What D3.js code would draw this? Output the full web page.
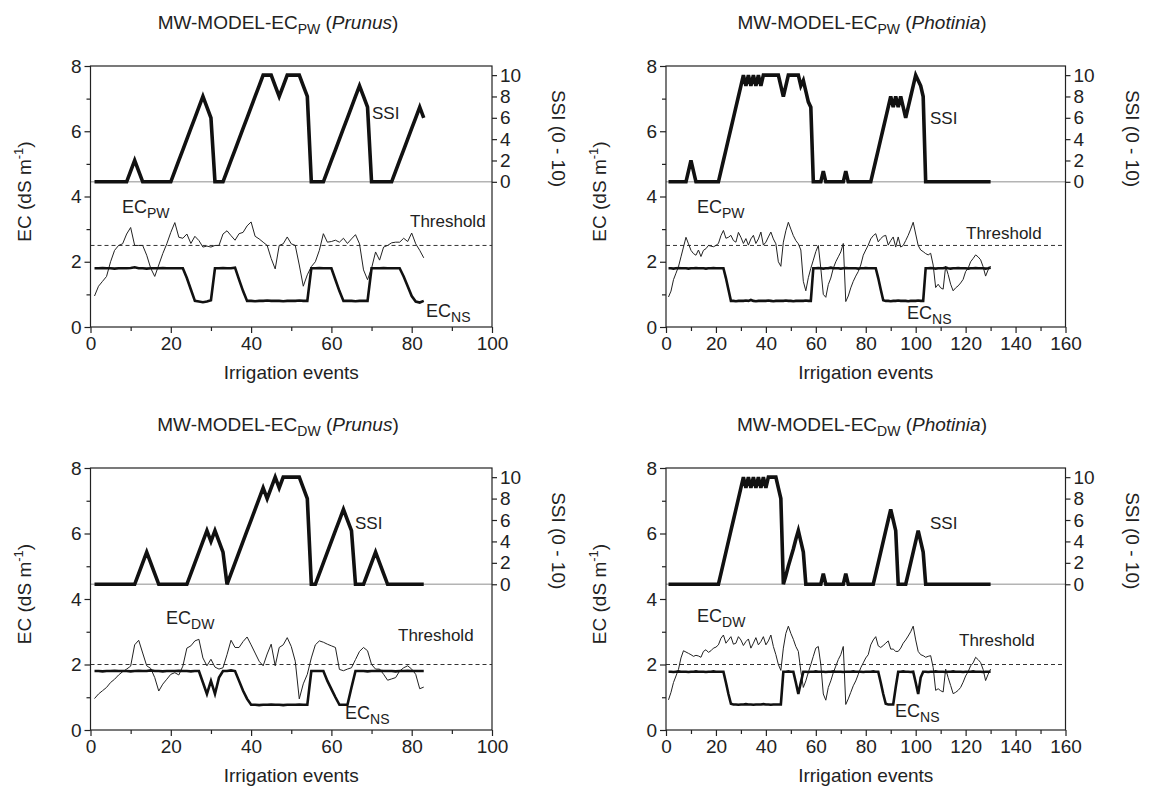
<!DOCTYPE html>
<html><head><meta charset="utf-8">
<script src="https://cdn.jsdelivr.net/npm/d3@7"></script>
<style>
html,body{margin:0;padding:0;background:#fff;}
svg text{font-family:"Liberation Sans",Arial,sans-serif;fill:#222;}
</style></head>
<body><svg id="c" width="1149" height="796"></svg>
<script>
// ---------- DATA ----------
const xTicksPrunus = [0, 20, 40, 60, 80, 100];
const xTicksPhotinia = [0, 20, 40, 60, 80, 100, 120, 140, 160];
const ecTicks = [0, 2, 4, 6, 8];
const ssiTicks = [0, 2, 4, 6, 8, 10];

// Panel A: MW-MODEL-EC_PW (Prunus), 83 irrigation events
const ssiPWPrunus = [0,0,0,0,0,0,0,0,0, 1,2,1,0, 0,0,0,0,0,0,0, 1,2,3,4,5,6,7,8,7,6,0,0,0,
  1,2,3,4,5,6,7,8,9,10,10,10,9,8,9,10,10,10,10,9,8,0,0,0,0,
  1,2,3,4,5,6,7,8,9,8,7,0,0,0,0,0,0, 1,2,3,4,5,6,7,6];
const ecnsPWPrunus = [1.8,1.8,1.81,1.8,1.8,1.79,1.8,1.8,1.8,1.81,1.83,1.8,1.8,1.79,1.8,1.8,1.8,1.81,1.8,1.8,1.8,1.8,1.8,
  1.5,1.15,0.8,0.78,0.76,0.78,0.82,
  1.8,1.8,1.81,1.8,1.8,1.82,
  1.45,1.1,0.8,
  0.8,0.79,0.8,0.8,0.81,0.8,0.8,0.8,0.79,0.8,0.8,0.8,0.81,0.8,0.8,
  1.8,1.8,1.81,1.8,1.8,1.8,
  1.45,1.1,0.8,
  0.8,0.8,0.79,0.8,0.8,0.8,
  1.8,1.8,1.8,1.81,1.8,1.8,1.8,1.8,
  1.55,1.25,0.95,0.78,0.75,0.8];
const ecpwPrunus = [0.95,1.25,1.4,1.55,2.0,2.35,2.5,2.55,2.85,3.05,2.5,2.5,2.5,2.2,1.8,1.55,1.9,2.25,2.55,2.9,
  3.2,2.75,2.72,2.85,2.56,2.78,2.65,2.45,2.48,2.45,2.5,2.5,2.85,2.95,2.8,2.66,2.86,2.9,3.1,3.22,
  2.78,2.7,2.6,2.5,2.1,1.78,2.5,2.55,2.76,2.55,2.5,1.9,1.25,1.6,1.85,2.0,2.35,2.86,2.6,2.62,
  2.66,2.6,2.72,2.56,2.7,2.83,2.55,1.75,1.45,1.8,2.3,2.05,2.45,2.5,2.58,2.6,2.6,2.72,2.62,2.88,
  2.55,2.35,2.12];

// Panel B: MW-MODEL-EC_PW (Photinia), 130 irrigation events
const ssiPWPhotinia = [0,0,0,0,0,0,0,0, 1,2,1,0, 0,0,0,0,0,0,0,0,0,
  1,2,3,4,5,6,7,8,9, 10,9,10,9,10,9,10,9,10, 10,10,10,10,10,10, 9,8,9, 10,10,10,10,10,
  9,9.5,8.5,7.5,7, 0,0,0,0, 1,0, 0,0,0,0,0,0,0, 1,0, 0,0,0,0,0,0,0,0,0,
  1,2,3,4,5,6,7,8, 7,8,7,8,7,6,7,8,9,10,9.5,9,8,
  0,0,0,0,0,0,0,0,0,0,0,0,0,0,0,0,0,0,0,0,0,0,0,0,0,0,0];
const ecnsPWPhotinia = [1.8,1.8,1.79,1.8,1.81,1.8,1.8,1.8,1.79,1.8,1.8,1.81,1.8,1.8,1.8,1.79,1.8,1.8,1.81,1.8,1.8,1.8,1.8,
  1.5,1.15,0.8,
  0.8,0.79,0.8,0.8,0.8,0.81,0.8,0.83,0.8,0.79,0.8,0.8,0.8,0.8,0.81,0.8,0.79,0.8,0.8,0.8,0.8,0.81,0.8,0.8,0.79,0.8,0.8,0.8,0.8,0.81,0.8,0.8,
  1.8,1.8,1.81,1.8,1.79,1.8,1.8,1.82,1.8,1.8,1.8,1.79,1.8,1.81,1.8,1.8,1.8,1.8,1.79,1.8,1.8,1.81,1.8,1.8,1.8,1.8,
  1.5,1.15,0.82,
  0.8,0.8,0.79,0.8,0.8,0.81,0.8,0.8,0.8,0.79,0.8,0.8,0.8,0.81,0.8,0.8,
  1.8,1.8,1.81,1.8,1.79,1.8,1.8,1.8,1.82,1.8,1.79,1.8,1.8,1.81,1.8,1.8,1.8,1.79,1.8,1.8,1.81,1.8,1.8,1.8,1.79,1.8,1.82];
const ecpwPhotinia = [0.92,1.1,1.45,1.65,1.85,2.15,2.45,2.75,2.55,2.35,2.25,2.2,2.36,2.16,2.35,2.4,2.5,2.48,2.46,2.5,
  2.56,2.8,2.96,2.72,2.75,2.81,2.65,2.6,2.9,2.75,2.56,2.71,2.51,2.7,2.81,2.56,2.7,2.91,2.51,2.6,
  2.76,2.91,2.7,2.55,2.0,1.86,2.6,2.95,3.21,3.0,2.8,2.65,2.55,2.36,1.4,1.11,1.51,1.8,2.05,2.31,
  2.5,1.8,1.0,0.91,1.3,1.5,1.8,2.0,2.15,2.3,2.56,0.78,0.95,1.2,1.4,1.56,1.7,1.9,2.2,2.36,
  2.51,2.7,2.8,2.86,2.61,2.71,2.78,2.81,2.51,2.65,2.76,2.45,2.76,2.45,2.5,2.65,2.81,3.0,3.21,2.85,
  2.5,2.36,2.31,2.25,2.21,2.26,1.9,1.21,1.31,1.2,1.16,1.86,1.61,1.31,1.11,1.2,1.26,1.35,1.46,1.7,
  1.8,2.0,2.1,2.21,2.15,2.06,1.85,1.56,1.75,1.86];

// Panel C: MW-MODEL-EC_DW (Prunus), 83 irrigation events
const ssiDWPrunus = [0,0,0,0,0,0,0,0,0,0,0, 1,2,3,2,1,0, 0,0,0,0,0,0,0,
  1,2,3,4,5,4,5,4,3,0, 1,2,3,4,5,6,7,8,9,8,9,10,9, 10,10,10,10,10, 9,8,0,0,
  1,2,3,4,5,6,7,6,5,0, 0,0,1,2,3,2,1,0, 0,0,0,0,0,0,0,0,0];
const ecnsDWPrunus = [1.8,1.8,1.79,1.8,1.8,1.81,1.8,1.8,1.8,1.79,1.8,1.81,1.8,1.8,1.82,1.8,1.8,1.79,1.8,1.8,1.8,1.81,1.8,1.8,1.79,1.8,1.8,
  1.45,1.1,1.5,1.1,1.6,
  1.8,1.8,1.82,1.8,
  1.5,1.2,0.95,
  0.77,0.77,0.76,0.77,0.77,0.78,0.77,0.77,0.76,0.77,0.77,0.77,0.78,0.77,0.77,
  1.8,1.8,1.8,1.8,
  1.5,1.25,1.0,
  0.77,0.77,0.77,
  1.3,1.8,
  1.8,1.8,1.79,1.8,1.8,1.81,1.8,1.8,1.8,1.79,1.8,1.8,1.81,1.8,1.8,1.8,1.8];
const ecdwPrunus = [0.96,1.1,1.2,1.3,1.45,1.55,1.68,1.78,1.86,1.95,2.6,2.74,2.35,1.96,1.88,1.6,1.19,1.4,1.55,1.7,
  1.75,1.68,1.95,2.5,2.57,2.72,2.77,2.2,1.96,2.16,1.92,1.86,1.9,2.3,2.74,2.52,2.52,2.7,2.84,2.6,
  2.35,2.1,1.96,2.32,2.62,1.96,2.52,2.6,2.82,2.55,2.1,0.95,1.41,1.7,2.2,2.6,2.72,2.68,2.62,2.57,
  2.52,1.85,1.81,1.86,1.9,2.15,2.4,2.52,2.42,2.0,1.86,1.86,1.7,1.52,1.56,1.6,1.8,1.9,1.96,1.86,
  1.7,1.26,1.31];

// Panel D: MW-MODEL-EC_DW (Photinia), 130 irrigation events
const ssiDWPhotinia = [0,0,0,0,0,0,0,0,0,0,0,0,0,0,0,0,0,0,0,0,0,
  1,2,3,4,5,6,7,8,9, 10,9,10,9,10,9,10,9,10,9,10, 10,10,10, 9,8, 0,
  0.8,1.7,2.5,3.3,4.2,5,4,3, 0, 0,0,0,0,0,0, 1, 0,0,0,0,0,0,0,0, 1, 0,0,0,0,0,0,0,0,0,0,0,
  1,2,3,4,5,6,7,6,5, 0,0,0,0, 1,2,3,4,5,4,3,
  0,0,0,0,0,0,0,0,0,0,0,0,0,0,0,0,0,0,0,0,0,0,0,0,0,0,0];
const ecnsDWPhotinia = [1.78,1.78,1.77,1.78,1.79,1.78,1.78,1.78,1.77,1.78,1.78,1.79,1.78,1.78,1.78,1.77,1.78,1.78,1.79,1.78,1.78,1.78,1.78,
  1.45,1.1,0.8,
  0.78,0.78,0.77,0.78,0.78,0.79,0.78,0.78,0.77,0.78,0.78,0.78,0.79,0.78,0.78,0.77,0.78,0.78,0.78,0.78,
  1.78,1.78,1.79,1.78,1.78,
  1.45,1.1,1.45,
  1.78,1.78,1.77,1.78,1.78,1.79,1.78,1.78,1.78,1.77,1.78,1.78,1.79,1.78,1.78,1.78,1.77,1.78,1.78,1.78,1.79,1.78,1.78,1.78,1.77,1.78,1.78,1.78,1.79,1.78,1.78,
  1.45,1.1,0.8,
  0.78,0.78,0.78,
  1.3,
  1.78,1.78,1.79,1.78,1.78,1.77,1.78,
  1.45,1.1,1.6,
  1.78,1.78,1.77,1.78,1.78,1.79,1.78,1.78,1.78,1.77,1.78,1.78,1.79,1.78,1.78,1.78,1.77,1.78,1.78,1.78,1.79,1.78,1.78,1.78,1.77,1.78,1.78,1.78];
const ecdwPhotinia = [0.92,1.15,1.45,1.65,1.85,2.2,2.42,2.38,2.34,2.3,2.25,2.28,2.26,2.22,2.4,2.45,2.37,2.42,2.5,2.53,
  2.6,2.8,2.9,2.65,2.75,2.85,2.62,2.65,2.85,2.75,2.58,2.7,2.78,2.5,2.65,2.82,2.6,2.7,2.85,2.6,
  2.72,2.9,2.55,2.3,2.0,1.82,2.5,2.95,3.17,2.95,2.77,2.55,2.4,1.8,1.3,1.5,1.76,2.0,2.25,2.5,
  2.55,2.0,1.1,0.91,1.3,1.5,1.75,1.95,2.15,2.3,2.55,0.78,0.95,1.15,1.35,1.5,1.7,1.9,2.05,2.2,
  2.3,2.6,2.75,2.85,2.57,2.52,2.58,2.65,2.72,2.47,2.47,2.4,2.4,2.5,2.65,2.75,2.87,3.0,3.17,2.75,
  2.4,2.3,2.27,2.22,2.25,2.27,1.91,1.21,1.26,1.2,1.16,1.86,1.6,1.36,1.11,1.15,1.21,1.3,1.46,1.65,
  1.78,1.96,2.05,2.22,2.15,2.06,1.85,1.51,1.7,1.86];

const thresholdPW = 2.5;
const thresholdDW = 2.0;

// ---------- DRAW ----------
const svg = d3.select("#c");
const cols = [{l: 90.5, r: 492}, {l: 666, r: 1065.5}];
const rows = [{t: 66, b: 327}, {t: 468, b: 730}];

const panels = [
  {col:0,row:0,xMax:100,xt:xTicksPrunus,sub:"PW",genus:"Prunus",ssi:ssiPWPrunus,ns:ecnsPWPrunus,ec:ecpwPrunus,thr:thresholdPW,
   titleX:278, ecLab:[122,213], thrLab:[410,227], nsLab:[426,317], ssiLab:[372,119]},
  {col:1,row:0,xMax:160,xt:xTicksPhotinia,sub:"PW",genus:"Photinia",ssi:ssiPWPhotinia,ns:ecnsPWPhotinia,ec:ecpwPhotinia,thr:thresholdPW,
   titleX:862, ecLab:[697,213], thrLab:[966,239], nsLab:[907,319], ssiLab:[930,124]},
  {col:0,row:1,xMax:100,xt:xTicksPrunus,sub:"DW",genus:"Prunus",ssi:ssiDWPrunus,ns:ecnsDWPrunus,ec:ecdwPrunus,thr:thresholdDW,
   titleX:278, ecLab:[166,624], thrLab:[398,641], nsLab:[345,719], ssiLab:[355,529]},
  {col:1,row:1,xMax:160,xt:xTicksPhotinia,sub:"DW",genus:"Photinia",ssi:ssiDWPhotinia,ns:ecnsDWPhotinia,ec:ecdwPhotinia,thr:thresholdDW,
   titleX:862, ecLab:[697,622], thrLab:[959,646], nsLab:[895,717], ssiLab:[930,529]}
];

function subText(sel, main, sub, size, subSize) {
  sel.append("tspan").attr("font-size", size).text(main);
  sel.append("tspan").attr("font-size", subSize).attr("dy", size*0.28).text(sub);
}

panels.forEach(p => {
  const c = cols[p.col], r = rows[p.row];
  const x = d3.scaleLinear().domain([0, p.xMax]).range([c.l, c.r]);
  const y = d3.scaleLinear().domain([0, 8]).range([r.b, r.t]);
  const ys = d3.scaleLinear().domain([0, 10]).range([y(4.45), y(7.72)]);
  const g = svg.append("g");

  // SSI zero baseline (gray)
  g.append("line").attr("x1", c.l).attr("x2", c.r).attr("y1", ys(0)).attr("y2", ys(0))
    .attr("stroke", "#b4b4b4").attr("stroke-width", 1.6);
  // threshold
  g.append("line").attr("x1", c.l).attr("x2", c.r).attr("y1", y(p.thr)).attr("y2", y(p.thr))
    .attr("stroke", "#333").attr("stroke-width", 1).attr("stroke-dasharray", "4,3");

  const lineEC = d3.line().x((d,i) => x(i+1)).y(d => y(d));
  const lineS = d3.line().x((d,i) => x(i+1)).y(d => ys(d));

  g.append("path").datum(p.ec).attr("d", lineEC).attr("fill","none").attr("stroke","#222").attr("stroke-width",1);
  g.append("path").datum(p.ns).attr("d", lineEC).attr("fill","none").attr("stroke","#111").attr("stroke-width",2.6);
  g.append("path").datum(p.ssi).attr("d", lineS).attr("fill","none").attr("stroke","#111").attr("stroke-width",3.6);

  // frame
  g.append("rect").attr("x", c.l).attr("y", r.t).attr("width", c.r-c.l).attr("height", r.b-r.t)
    .attr("fill","none").attr("stroke","#222").attr("stroke-width",1.2);

  const tickFont = 19;
  const axL = g.append("g").attr("transform", `translate(${c.l},0)`)
    .call(d3.axisLeft(y).tickValues(ecTicks).tickSize(6).tickPadding(3).tickFormat(d3.format("d")));
  const axLm = g.append("g").attr("transform", `translate(${c.l},0)`)
    .call(d3.axisLeft(y).tickValues([1,3,5,7]).tickSize(4).tickFormat(""));
  const minorX = d3.range(10, p.xMax, 20);
  const axB = g.append("g").attr("transform", `translate(0,${r.b})`)
    .call(d3.axisBottom(x).tickValues(p.xt).tickSize(6).tickPadding(4).tickFormat(d3.format("d")));
  const axBm = g.append("g").attr("transform", `translate(0,${r.b})`)
    .call(d3.axisBottom(x).tickValues(minorX).tickSize(4).tickFormat(""));
  const axR = g.append("g").attr("transform", `translate(${c.r},0)`)
    .call(d3.axisRight(ys).tickValues(ssiTicks).tickSize(5).tickPadding(3).tickFormat(d3.format("d")));

  [axL, axLm, axB, axBm, axR].forEach(a => {
    a.select(".domain").remove();
    a.selectAll("line").attr("stroke", "#222").attr("stroke-width", 1.2);
    a.selectAll("text").attr("font-size", tickFont).attr("fill", "#222")
      .style("font-family", '"Liberation Sans", Arial, sans-serif');
  });

  // title
  const t = g.append("text").attr("x", p.titleX).attr("y", r.t - 37).attr("text-anchor","middle").attr("font-size",19);
  t.append("tspan").text("MW-MODEL-EC");
  t.append("tspan").attr("font-size",14).attr("dy",5).text(p.sub);
  t.append("tspan").attr("dy",-5).text(" (");
  t.append("tspan").attr("font-style","italic").text(p.genus);
  t.append("tspan").text(")");

  // x axis title
  g.append("text").attr("x", (c.l+c.r)/2).attr("y", r.b + 52).attr("text-anchor","middle")
    .attr("font-size",19).text("Irrigation events");

  // left axis title
  const ly = (r.t + r.b)/2 - 5;
  const lt = g.append("text").attr("transform", `translate(${c.l-60},${ly}) rotate(-90)`)
    .attr("text-anchor","middle").attr("font-size",19);
  lt.append("tspan").text("EC (dS m");
  lt.append("tspan").attr("font-size",13).attr("dy",-8).text("-1");
  lt.append("tspan").attr("dy",8).text(")");

  // right axis title
  const ry = (ys(0) + ys(10))/2 + 10;
  g.append("text").attr("transform", `translate(${c.r+60},${ry}) rotate(90)`)
    .attr("text-anchor","middle").attr("font-size",19).text("SSI (0 - 10)");

  // in-plot labels
  g.append("text").attr("x", p.ssiLab[0]).attr("y", p.ssiLab[1]).attr("font-size",17).text("SSI");
  g.append("text").attr("x", p.thrLab[0]).attr("y", p.thrLab[1]).attr("font-size",17).text("Threshold");
  const el = g.append("text").attr("x", p.ecLab[0]).attr("y", p.ecLab[1]);
  subText(el, "EC", p.sub, 18, 14);
  const nl = g.append("text").attr("x", p.nsLab[0]).attr("y", p.nsLab[1]);
  subText(nl, "EC", "NS", 18, 14);
});
</script>
</body></html>
